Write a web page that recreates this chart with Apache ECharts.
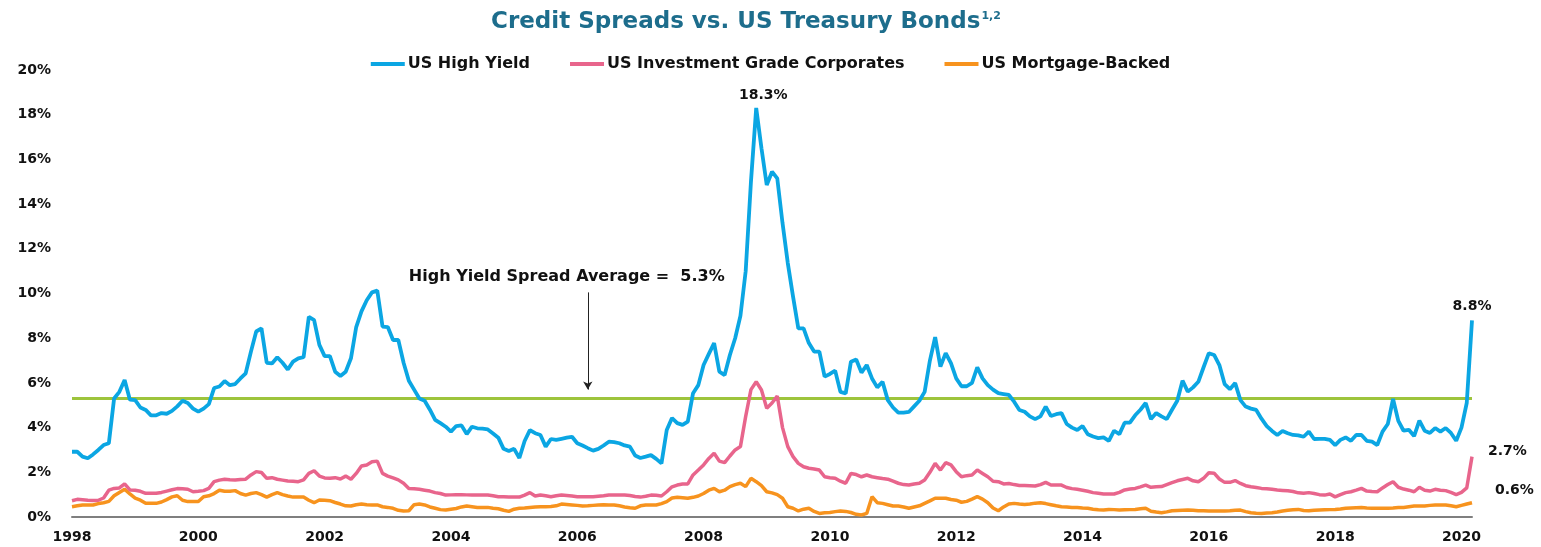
<!DOCTYPE html>
<html>
<head>
<meta charset="utf-8">
<title>Credit Spreads vs. US Treasury Bonds</title>
<script src="https://cdn.jsdelivr.net/npm/echarts@6/dist/echarts.min.js"></script>
<style>
  html, body { margin: 0; padding: 0; background: #ffffff; }
  #chart { width: 1541px; height: 547px; }
</style>
</head>
<body>
<div id="chart"></div>
<script>
// Monthly spreads over Treasuries (%), January 1998 through March 2020.
const START_YEAR = 1998;
const MONTH_COUNT = 267;

const HIGH_YIELD = [
  2.92, 2.92, 2.7, 2.63, 2.8, 3.0, 3.22, 3.3, 5.3, 5.6, 6.13, 5.25,        // 1998
  5.23, 4.9, 4.79, 4.55, 4.55, 4.65, 4.62, 4.75, 4.95, 5.2, 5.1, 4.85,     // 1999
  4.71, 4.85, 5.05, 5.77, 5.84, 6.08, 5.9, 5.95, 6.2, 6.43, 7.4, 8.3,      // 2000
  8.44, 6.9, 6.87, 7.15, 6.9, 6.6, 6.95, 7.1, 7.15, 8.96, 8.81, 7.7,       // 2001
  7.2, 7.2, 6.5, 6.31, 6.5, 7.1, 8.5, 9.2, 9.7, 10.05, 10.13, 8.52,        // 2002
  8.5, 7.92, 7.92, 6.9, 6.1, 5.7, 5.3, 5.2, 4.8, 4.35, 4.2, 4.04,          // 2003
  3.82, 4.07, 4.1, 3.71, 4.04, 3.97, 3.95, 3.92, 3.74, 3.55, 3.05, 2.95,   // 2004
  3.05, 2.64, 3.4, 3.89, 3.75, 3.67, 3.15, 3.49, 3.45, 3.5, 3.55, 3.59,    // 2005
  3.3, 3.2, 3.08, 2.97, 3.05, 3.2, 3.37, 3.35, 3.3, 3.2, 3.15, 2.75,       // 2006
  2.64, 2.7, 2.77, 2.6, 2.4, 3.89, 4.43, 4.2, 4.12, 4.27, 5.54, 5.9,       // 2007
  6.8, 7.3, 7.78, 6.5, 6.35, 7.25, 8.0, 9.0, 11.0, 15.0, 18.3, 16.5,       // 2008
  14.85, 15.45, 15.15, 13.15, 11.36, 9.86, 8.44, 8.44, 7.78, 7.4, 7.4, 6.28, // 2009
  6.4, 6.55, 5.6, 5.53, 6.95, 7.05, 6.46, 6.8, 6.2, 5.8, 6.05, 5.23,       // 2010
  4.9, 4.67, 4.67, 4.7, 4.95, 5.2, 5.6, 7.0, 8.05, 6.73, 7.33, 6.88,       // 2011
  6.2, 5.85, 5.85, 6.0, 6.7, 6.2, 5.9, 5.7, 5.54, 5.5, 5.46, 5.16,         // 2012
  4.79, 4.71, 4.5, 4.38, 4.5, 4.94, 4.52, 4.6, 4.65, 4.16, 4.0, 3.89,      // 2013
  4.07, 3.7, 3.6, 3.53, 3.56, 3.41, 3.86, 3.71, 4.22, 4.22, 4.55, 4.8,     // 2014
  5.1, 4.38, 4.65, 4.5, 4.38, 4.8, 5.2, 6.1, 5.61, 5.8, 6.05, 6.7,         // 2015
  7.33, 7.25, 6.8, 5.95, 5.72, 5.99, 5.23, 4.94, 4.85, 4.79, 4.4, 4.07,    // 2016
  3.85, 3.67, 3.85, 3.75, 3.67, 3.65, 3.59, 3.82, 3.49, 3.5, 3.5, 3.45,    // 2017
  3.22, 3.45, 3.56, 3.41, 3.67, 3.67, 3.41, 3.37, 3.22, 3.82, 4.16, 5.28,  // 2018
  4.3, 3.86, 3.9, 3.62, 4.31, 3.86, 3.76, 3.98, 3.82, 3.98, 3.76, 3.41,    // 2019
  4.0, 5.1, 8.8                                                           // 2020
];

const INVESTMENT_GRADE = [
  0.73, 0.79, 0.77, 0.75, 0.74, 0.75, 0.85, 1.2, 1.28, 1.3, 1.48, 1.21,    // 1998
  1.2, 1.15, 1.06, 1.06, 1.06, 1.1, 1.16, 1.22, 1.27, 1.26, 1.24, 1.13,    // 1999
  1.15, 1.18, 1.28, 1.58, 1.65, 1.69, 1.67, 1.66, 1.68, 1.69, 1.88, 2.03,  // 2000
  1.99, 1.73, 1.76, 1.69, 1.65, 1.61, 1.6, 1.58, 1.66, 1.95, 2.07, 1.83,   // 2001
  1.75, 1.73, 1.76, 1.7, 1.83, 1.69, 1.95, 2.28, 2.33, 2.47, 2.5, 1.95,    // 2002
  1.83, 1.75, 1.66, 1.51, 1.28, 1.26, 1.24, 1.2, 1.16, 1.09, 1.05, 0.98,   // 2003
  0.99, 1.0, 1.0, 0.99, 0.98, 0.98, 0.98, 0.98, 0.95, 0.91, 0.91, 0.9,     // 2004
  0.89, 0.89, 0.98, 1.09, 0.94, 0.98, 0.95, 0.91, 0.95, 0.98, 0.96, 0.94,  // 2005
  0.91, 0.91, 0.91, 0.91, 0.93, 0.95, 0.98, 0.98, 0.98, 0.98, 0.96, 0.92,  // 2006
  0.89, 0.93, 0.98, 0.97, 0.94, 1.13, 1.35, 1.43, 1.48, 1.48, 1.88, 2.1,   // 2007
  2.33, 2.62, 2.85, 2.5, 2.43, 2.73, 3.0, 3.15, 4.5, 5.7, 6.05, 5.68,      // 2008
  4.87, 5.1, 5.41, 4.0, 3.15, 2.7, 2.4, 2.25, 2.18, 2.15, 2.1, 1.8,        // 2009
  1.76, 1.73, 1.6, 1.51, 1.95, 1.9, 1.8, 1.88, 1.8, 1.76, 1.72, 1.69,      // 2010
  1.6, 1.51, 1.45, 1.43, 1.48, 1.51, 1.66, 2.0, 2.4, 2.1, 2.43, 2.33,      // 2011
  2.03, 1.8, 1.85, 1.88, 2.1, 1.95, 1.8, 1.6, 1.58, 1.48, 1.5, 1.45,       // 2012
  1.41, 1.41, 1.4, 1.39, 1.45, 1.55, 1.43, 1.43, 1.43, 1.32, 1.27, 1.24,   // 2013
  1.2, 1.15, 1.09, 1.06, 1.03, 1.03, 1.03, 1.1, 1.21, 1.25, 1.28, 1.35,    // 2014
  1.43, 1.33, 1.35, 1.36, 1.45, 1.54, 1.62, 1.68, 1.73, 1.62, 1.58, 1.73,  // 2015
  1.98, 1.96, 1.7, 1.55, 1.55, 1.63, 1.5, 1.4, 1.35, 1.32, 1.28, 1.26,     // 2016
  1.24, 1.21, 1.19, 1.17, 1.14, 1.08, 1.06, 1.09, 1.05, 1.0, 0.98, 1.03,   // 2017
  0.9, 1.0, 1.09, 1.13, 1.2, 1.28, 1.16, 1.14, 1.13, 1.3, 1.45, 1.58,      // 2018
  1.33, 1.25, 1.2, 1.13, 1.33, 1.2, 1.16, 1.24, 1.2, 1.18, 1.1, 1.0,       // 2019
  1.1, 1.3, 2.7                                                           // 2020
];

const MORTGAGE_BACKED = [
  0.46, 0.5, 0.54, 0.54, 0.54, 0.6, 0.64, 0.7, 0.95, 1.1, 1.24, 1.03,      // 1998
  0.84, 0.75, 0.61, 0.61, 0.61, 0.67, 0.78, 0.9, 0.95, 0.75, 0.69, 0.69,   // 1999
  0.69, 0.91, 0.95, 1.05, 1.2, 1.15, 1.15, 1.18, 1.05, 0.98, 1.05, 1.09,   // 2000
  1.0, 0.89, 1.0, 1.09, 1.0, 0.94, 0.89, 0.89, 0.89, 0.75, 0.64, 0.76,     // 2001
  0.75, 0.73, 0.65, 0.58, 0.5, 0.49, 0.55, 0.58, 0.55, 0.54, 0.54, 0.46,   // 2002
  0.43, 0.39, 0.3, 0.27, 0.28, 0.55, 0.58, 0.54, 0.45, 0.39, 0.33, 0.31,   // 2003
  0.35, 0.38, 0.45, 0.49, 0.46, 0.43, 0.43, 0.43, 0.39, 0.37, 0.3, 0.25,   // 2004
  0.35, 0.39, 0.4, 0.43, 0.45, 0.46, 0.46, 0.47, 0.5, 0.58, 0.56, 0.54,    // 2005
  0.52, 0.49, 0.5, 0.52, 0.54, 0.55, 0.54, 0.54, 0.5, 0.45, 0.41, 0.39,    // 2006
  0.5, 0.54, 0.54, 0.54, 0.6, 0.69, 0.85, 0.88, 0.86, 0.84, 0.88, 0.94,    // 2007
  1.05, 1.2, 1.28, 1.13, 1.2, 1.36, 1.45, 1.51, 1.36, 1.73, 1.58, 1.4,     // 2008
  1.13, 1.08, 1.0, 0.84, 0.46, 0.39, 0.27, 0.35, 0.39, 0.25, 0.16, 0.19,   // 2009
  0.2, 0.24, 0.27, 0.25, 0.2, 0.12, 0.09, 0.16, 0.91, 0.64, 0.61, 0.55,    // 2010
  0.49, 0.49, 0.45, 0.39, 0.45, 0.5, 0.61, 0.72, 0.84, 0.84, 0.84, 0.78,   // 2011
  0.75, 0.66, 0.7, 0.8, 0.91, 0.8, 0.64, 0.4, 0.28, 0.45, 0.58, 0.61,      // 2012
  0.58, 0.56, 0.58, 0.62, 0.64, 0.6, 0.55, 0.5, 0.46, 0.45, 0.43, 0.42,    // 2013
  0.4, 0.39, 0.35, 0.32, 0.31, 0.34, 0.33, 0.31, 0.32, 0.33, 0.34, 0.37,   // 2014
  0.39, 0.26, 0.22, 0.19, 0.23, 0.28, 0.29, 0.3, 0.31, 0.3, 0.28, 0.28,    // 2015
  0.27, 0.27, 0.27, 0.27, 0.28, 0.3, 0.31, 0.24, 0.19, 0.17, 0.16, 0.18,   // 2016
  0.19, 0.22, 0.27, 0.3, 0.32, 0.34, 0.29, 0.28, 0.3, 0.31, 0.32, 0.33,    // 2017
  0.34, 0.36, 0.39, 0.4, 0.41, 0.42, 0.4, 0.39, 0.39, 0.39, 0.39, 0.4,     // 2018
  0.42, 0.43, 0.46, 0.49, 0.49, 0.49, 0.52, 0.54, 0.54, 0.54, 0.5, 0.46,   // 2019
  0.52, 0.58, 0.64                                                        // 2020
];

// Long-run average high-yield spread (%)
const HY_AVERAGE = 5.3;

// Year labels shown on the x axis (every second January)
const YEAR_TICKS = ['1998', '2000', '2002', '2004', '2006', '2008', '2010',
                    '2012', '2014', '2016', '2018', '2020'];

// Month to which the average-line arrow points
const ARROW_MONTH = '2006-03';

const SERIES_NAMES = ['US High Yield', 'US Investment Grade Corporates', 'US Mortgage-Backed'];
const COLORS = { hy: '#0ba6e3', ig: '#e8658c', mbs: '#f7931e', avg: '#9dc43c', title: '#1d6d8c' };

// Month categories: "YYYY-MM"
const MONTHS = [];
for (let i = 0; i < MONTH_COUNT; i++) {
  const y = START_YEAR + Math.floor(i / 12);
  const m = (i % 12) + 1;
  MONTHS.push(y + '-' + (m < 10 ? '0' + m : m));
}

const FONT = '"DejaVu Sans", sans-serif';
const pct = v => v.toFixed(1) + '%';
const last = MONTH_COUNT - 1;

const chart = echarts.init(document.getElementById('chart'), null, { renderer: 'canvas' });

chart.setOption({
  animation: false,
  backgroundColor: '#ffffff',
  title: {
    text: '{t|Credit Spreads vs. US Treasury Bonds}{s|1,2}',
    left: 486,
    top: 6,
    textStyle: {
      rich: {
        t: { fontFamily: FONT, fontWeight: 'bold', fontSize: 23, color: COLORS.title },
        s: { fontFamily: FONT, fontWeight: 'bold', fontSize: 11, color: COLORS.title, verticalAlign: 'top', padding: [0, 0, 10, 1] }
      }
    }
  },
  legend: {
    data: SERIES_NAMES,
    top: 51,
    left: 'center',
    icon: 'rect',
    itemWidth: 34,
    itemHeight: 4,
    itemGap: 40,
    textStyle: { fontFamily: FONT, fontWeight: 'bold', fontSize: 16, color: '#111111', padding: [0, 0, 0, -2] }
  },
  grid: { left: 72, right: 69, top: 70, bottom: 30, containLabel: false },
  xAxis: {
    type: 'category',
    data: MONTHS,
    boundaryGap: false,
    axisLine: { show: true, lineStyle: { color: '#7f7f7f', width: 2 } },
    axisTick: { show: false },
    splitLine: { show: false },
    axisLabel: {
      interval: (idx, val) => YEAR_TICKS.indexOf(val.slice(0, 4)) >= 0 && val.slice(5) === '01',
      formatter: val => val.slice(0, 4),
      margin: 13,
      fontFamily: FONT,
      fontWeight: 'bold',
      fontSize: 14,
      color: '#111111'
    }
  },
  yAxis: {
    type: 'value',
    min: 0,
    max: 20,
    interval: 2,
    axisLine: { show: false },
    axisTick: { show: false },
    splitLine: { show: false },
    axisLabel: {
      formatter: '{value}%',
      margin: 21,
      fontFamily: FONT,
      fontWeight: 'bold',
      fontSize: 14,
      color: '#111111'
    }
  },
  series: [
    {
      name: SERIES_NAMES[0],
      type: 'line',
      data: HIGH_YIELD,
      showSymbol: false,
      color: COLORS.hy,
      lineStyle: { width: 3.8, color: COLORS.hy },
      z: 4,
      markLine: {
        silent: true,
        symbol: 'none',
        z: 3,
        label: { show: false },
        data: [
          { yAxis: HY_AVERAGE, lineStyle: { color: COLORS.avg, width: 3, type: 'solid' } },
          [
            { coord: [ARROW_MONTH, 10.05], symbol: 'none', lineStyle: { color: '#222222', width: 1, type: 'solid' } },
            { coord: [ARROW_MONTH, 5.7], symbol: 'arrow', symbolSize: [7, 8] }
          ]
        ]
      },
      markPoint: {
        silent: true,
        symbol: 'circle',
        symbolSize: 0,
        label: {
          show: true,
          fontFamily: FONT,
          fontWeight: 'bold',
          fontSize: 14,
          color: '#111111'
        },
        data: [
          { type: 'max', label: { position: 'top', distance: 6, offset: [7, 0], formatter: p => pct(p.value) } },
          { coord: [MONTHS[last], HIGH_YIELD[last]], value: HIGH_YIELD[last],
            label: { position: 'top', distance: 7, formatter: p => pct(p.value) } },
          { coord: [ARROW_MONTH, 10.05], value: HY_AVERAGE,
            label: { position: 'top', distance: 8, offset: [-21, 0], fontSize: 16,
                     formatter: p => 'High Yield Spread Average =  ' + pct(p.value) } }
        ]
      }
    },
    {
      name: SERIES_NAMES[1],
      type: 'line',
      data: INVESTMENT_GRADE,
      showSymbol: false,
      color: COLORS.ig,
      lineStyle: { width: 3.5, color: COLORS.ig },
      z: 3,
      markPoint: {
        silent: true,
        symbol: 'circle',
        symbolSize: 0,
        label: { show: true, fontFamily: FONT, fontWeight: 'bold', fontSize: 14, color: '#111111' },
        data: [
          { coord: [MONTHS[last], INVESTMENT_GRADE[last]], value: INVESTMENT_GRADE[last],
            label: { position: 'right', distance: 16, offset: [0, -5], formatter: p => pct(p.value) } }
        ]
      }
    },
    {
      name: SERIES_NAMES[2],
      type: 'line',
      data: MORTGAGE_BACKED,
      showSymbol: false,
      color: COLORS.mbs,
      lineStyle: { width: 3.5, color: COLORS.mbs },
      z: 2,
      markPoint: {
        silent: true,
        symbol: 'circle',
        symbolSize: 0,
        label: { show: true, fontFamily: FONT, fontWeight: 'bold', fontSize: 14, color: '#111111' },
        data: [
          { coord: [MONTHS[last], MORTGAGE_BACKED[last]], value: MORTGAGE_BACKED[last],
            label: { position: 'right', distance: 23, offset: [0, -12], formatter: p => pct(p.value) } }
        ]
      }
    }
  ]
});
</script>
</body>
</html>
